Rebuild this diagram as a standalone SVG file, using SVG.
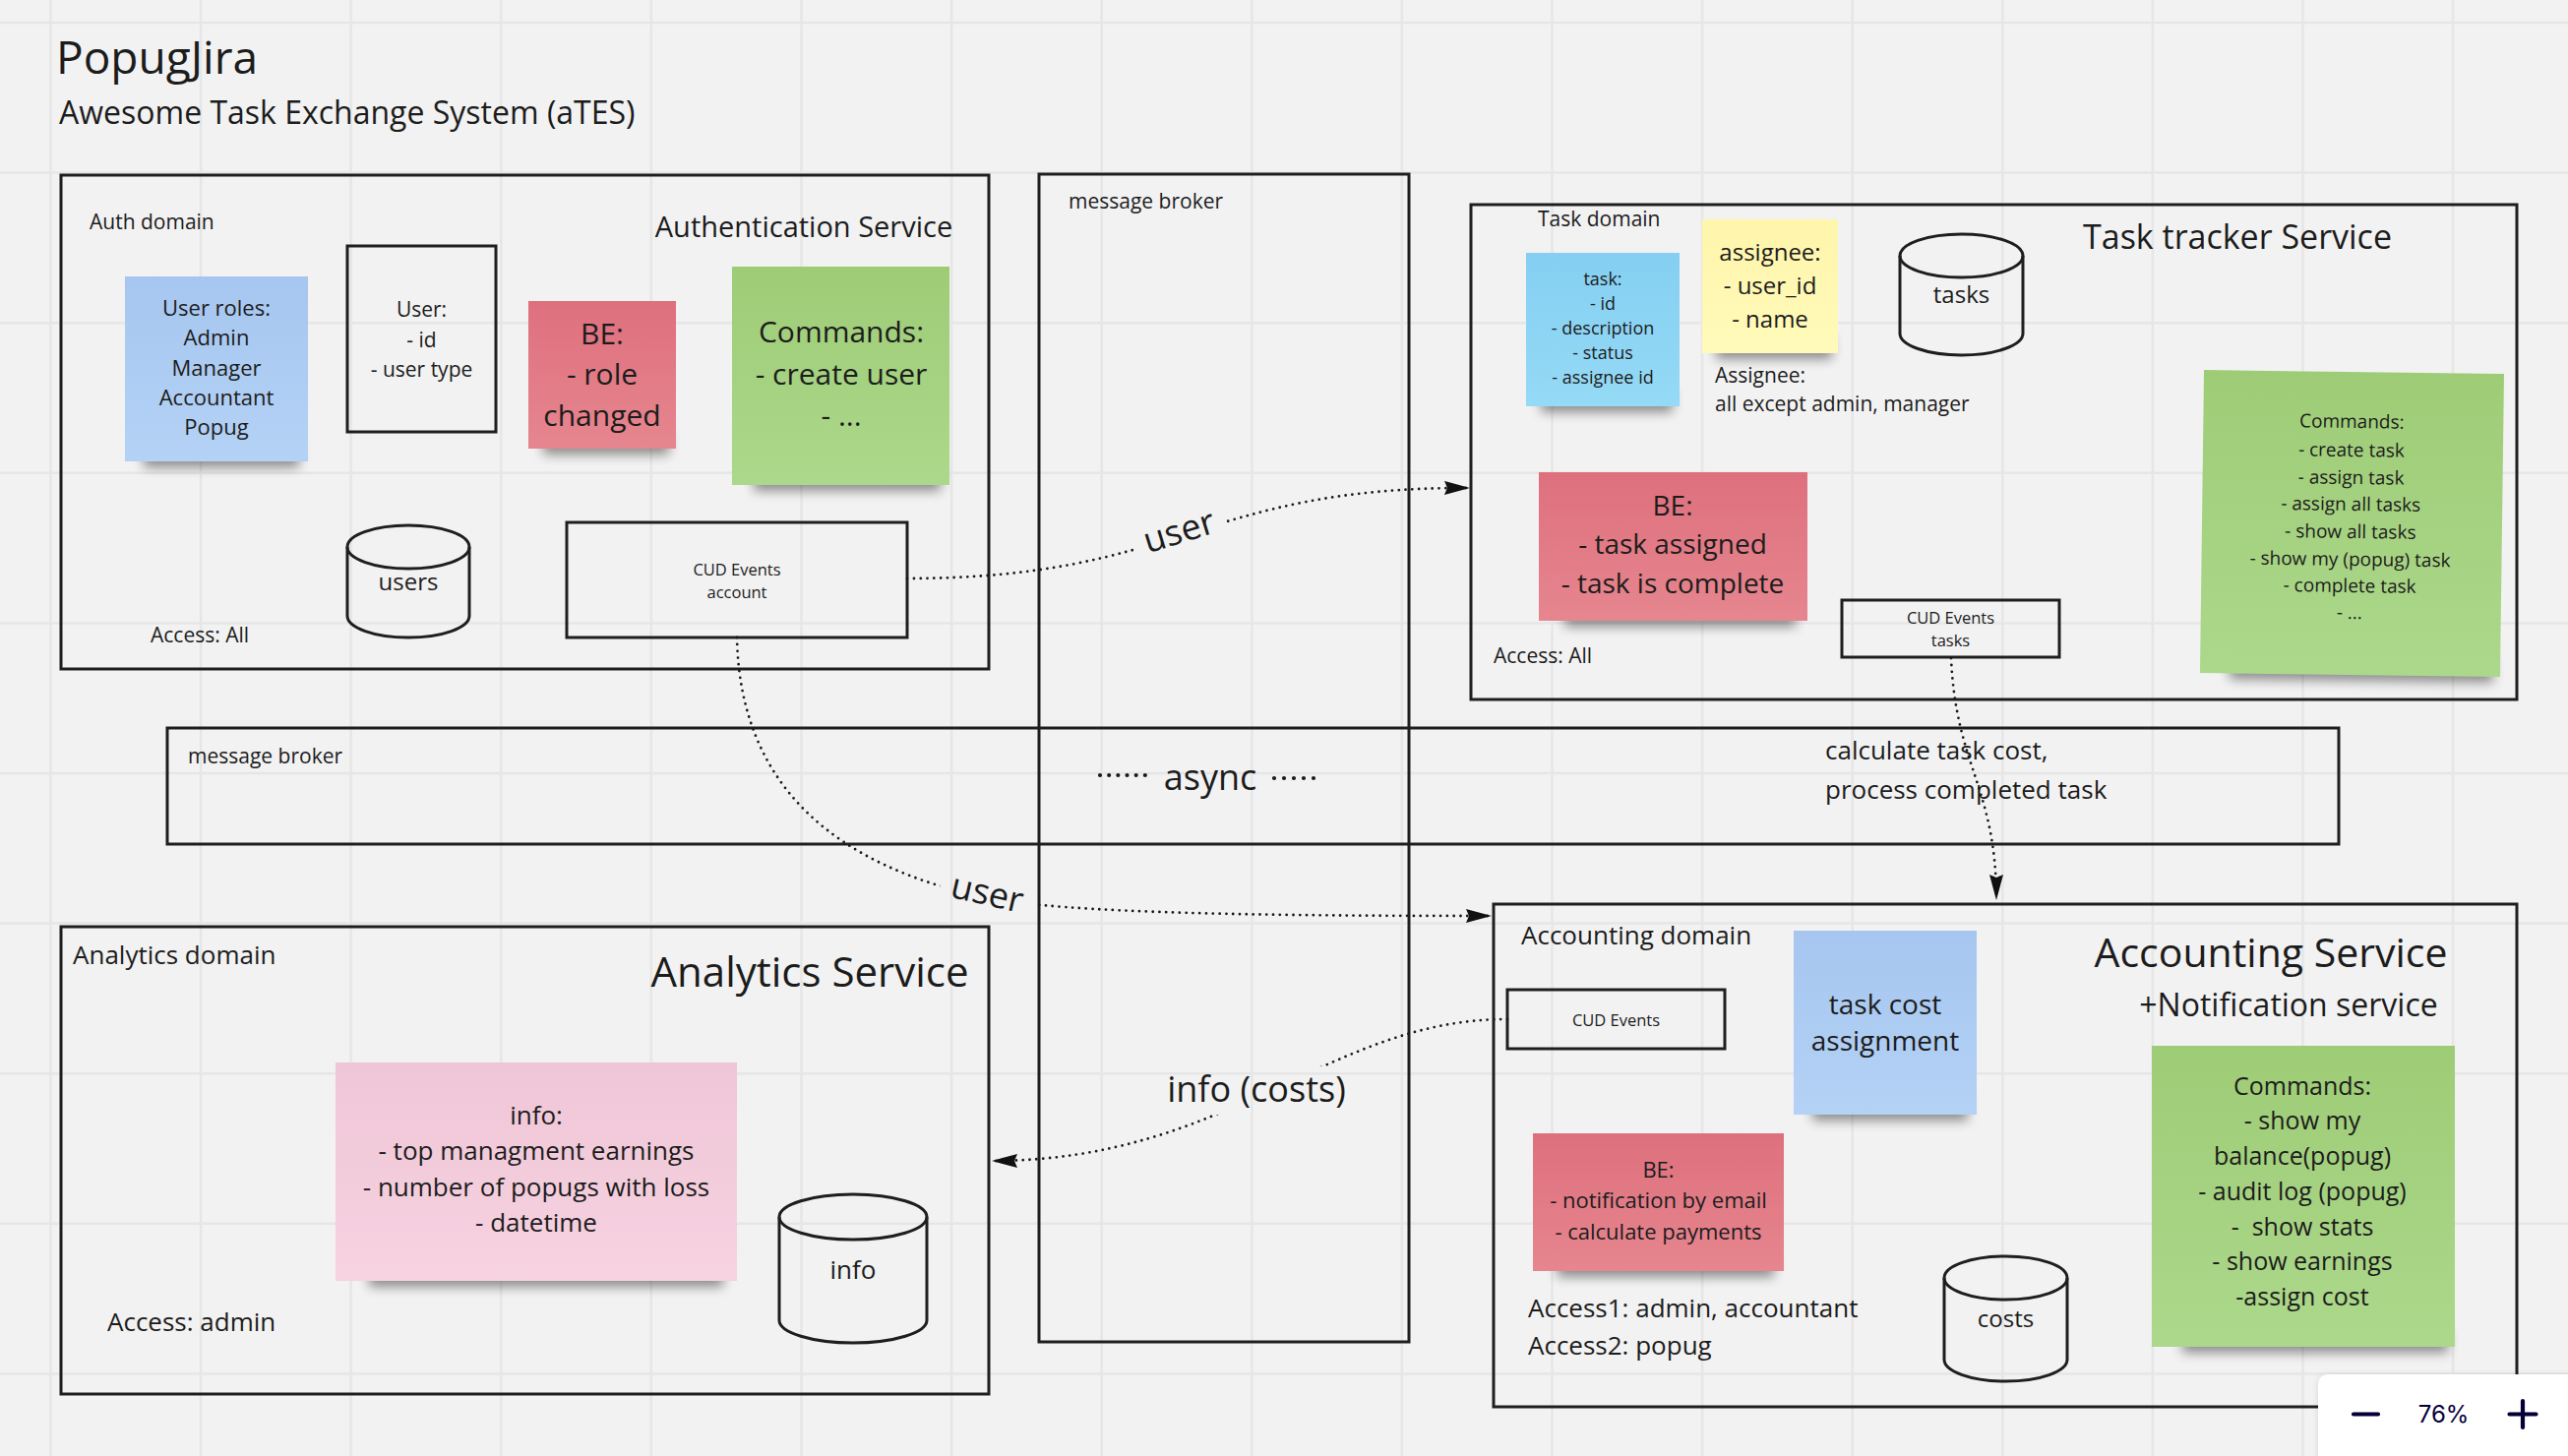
<svg xmlns="http://www.w3.org/2000/svg" width="2610" height="1480" viewBox="0 0 2610 1480">
<style>
.t{font-family:"Open Sans","Liberation Sans",sans-serif;fill:#1c1c1c}
.m{text-anchor:middle}
.box{fill:none;stroke:#1e1e1e;stroke-width:3}
.conn{fill:none;stroke:#1a1a1a;stroke-width:2.8;stroke-dasharray:0 6.8;stroke-linecap:round}
.dots{fill:none;stroke:#1a1a1a;stroke-width:4.2;stroke-linecap:round}
.sh{fill:#000;opacity:.42;filter:url(#blur)}
.grid{fill:none;stroke:#e6e6e6;stroke-width:2.5}
</style>
<defs>
<filter id="blur" x="-30%" y="-100%" width="160%" height="300%"><feGaussianBlur stdDeviation="6"/></filter>
<filter id="wsh" x="-10%" y="-30%" width="120%" height="160%"><feDropShadow dx="0" dy="1" stdDeviation="3" flood-color="#000" flood-opacity=".12"/></filter>
<linearGradient id="gBlue" x1="0" y1="0" x2="0" y2="1"><stop offset="0" stop-color="#a6c6f0"/><stop offset="1" stop-color="#b4d2f5"/></linearGradient>
<linearGradient id="gRed" x1="0" y1="0" x2="0" y2="1"><stop offset="0" stop-color="#de707d"/><stop offset="1" stop-color="#e6868f"/></linearGradient>
<linearGradient id="gGreen" x1="0" y1="0" x2="0" y2="1"><stop offset="0" stop-color="#9ecc76"/><stop offset="1" stop-color="#acd88b"/></linearGradient>
<linearGradient id="gCyan" x1="0" y1="0" x2="0" y2="1"><stop offset="0" stop-color="#84cff2"/><stop offset="1" stop-color="#95daf6"/></linearGradient>
<linearGradient id="gYellow" x1="0" y1="0" x2="0" y2="1"><stop offset="0" stop-color="#fff5ab"/><stop offset="1" stop-color="#fffaba"/></linearGradient>
<linearGradient id="gPink" x1="0" y1="0" x2="0" y2="1"><stop offset="0" stop-color="#efc6d7"/><stop offset="1" stop-color="#f7d2e1"/></linearGradient>
<marker id="arr" markerUnits="userSpaceOnUse" markerWidth="28" markerHeight="16" refX="26" refY="7" orient="auto"><path d="M0,0 L26,7 L0,14 L3,7 z" fill="#111"/></marker>
<mask id="gaps" maskUnits="userSpaceOnUse" x="0" y="0" width="2610" height="1480">
<rect width="2610" height="1480" fill="#fff"/>
<rect x="-48" y="-22" width="96" height="44" fill="#000" transform="translate(1199,542) rotate(-17.5)"/>
<rect x="-50" y="-22" width="100" height="44" fill="#000" transform="translate(1005,908) rotate(13)"/>
<rect x="1180" y="1084" width="196" height="49" fill="#000"/>
</mask>
</defs>

<rect width="2610" height="1480" fill="#f2f2f2"/>
<path class="grid" d="M51.5,0V1480M204.1,0V1480M356.7,0V1480M509.3,0V1480M661.9,0V1480M814.5,0V1480M967.1,0V1480M1119.7,0V1480M1272.3,0V1480M1424.9,0V1480M1577.5,0V1480M1730.1,0V1480M1882.7,0V1480M2035.3,0V1480M2187.9,0V1480M2340.5,0V1480M2493.1,0V1480M0,23H2610M0,175.6H2610M0,328.2H2610M0,480.8H2610M0,633.4H2610M0,786H2610M0,938.6H2610M0,1091.2H2610M0,1243.8H2610M0,1396.4H2610"/>

<g id="title">
<text class="t" x="57" y="75" font-size="46">PopugJira</text>
<text class="t" x="60" y="126" font-size="32">Awesome Task Exchange System (aTES)</text>
</g>

<g id="broker-vertical">
<rect class="box" x="1056" y="177" width="376" height="1187"/>
<text class="t" x="1086" y="212" font-size="21">message broker</text>
</g>
<g id="broker-horizontal">
<rect class="box" x="170" y="740" width="2207" height="118"/>
<text class="t" x="191" y="776" font-size="21">message broker</text>
<path class="dots" d="M1118,788H1173" stroke-dasharray="0 9.17"/>
<text class="t" x="1230" y="803" font-size="36" text-anchor="middle">async</text>
<path class="dots" d="M1295,791H1345" stroke-dasharray="0 10"/>
<text class="t" x="1855" y="772" font-size="26">calculate task cost,</text>
<text class="t" x="1855" y="812" font-size="26">process completed task</text>
</g>

<g id="auth-domain">
<rect class="box" x="62" y="178" width="943" height="502"/>
<text class="t" x="91" y="233" font-size="21">Auth domain</text>
<text class="t m" x="817" y="241" font-size="29">Authentication Service</text>
<text class="t" x="153" y="653" font-size="21">Access: All</text>
</g>
<g id="user-roles">
<rect class="sh" x="146" y="451" width="158" height="24"/>
<rect x="127" y="281" width="186" height="188" fill="url(#gBlue)"/>
<text class="t m" font-size="22"><tspan x="220" y="321">User roles:</tspan><tspan x="220" y="351">Admin</tspan><tspan x="220" y="382">Manager</tspan><tspan x="220" y="412">Accountant</tspan><tspan x="220" y="442">Popug</tspan></text>
</g>
<g id="user-entity">
<rect class="box" x="353" y="250" width="151" height="189"/>
<text class="t m" font-size="21"><tspan x="428.5" y="322">User:</tspan><tspan x="428.5" y="353">- id</tspan><tspan x="428.5" y="383">- user type</tspan></text>
</g>
<g id="auth-be">
<rect class="sh" x="552" y="438" width="128" height="24"/>
<rect x="537" y="306" width="150" height="150" fill="url(#gRed)"/>
<text class="t m" font-size="30"><tspan x="612" y="350">BE:</tspan><tspan x="612" y="391">- role</tspan><tspan x="612" y="433">changed</tspan></text>
</g>
<g id="auth-commands">
<rect class="sh" x="766" y="475" width="190" height="24"/>
<rect x="744" y="271" width="221" height="222" fill="url(#gGreen)"/>
<text class="t m" font-size="30"><tspan x="855" y="348">Commands:</tspan><tspan x="855" y="391">- create user</tspan><tspan x="855" y="433">- ...</tspan></text>
</g>
<g id="users-db">
<ellipse class="box" cx="415" cy="556" rx="62" ry="22"/>
<path class="box" d="M353,556V626A62,22 0 0 0 477,626V556"/>
<text class="t m" x="415" y="600" font-size="24">users</text>
</g>
<g id="cud-account">
<rect class="box" x="576" y="531" width="346" height="117"/>
<text class="t m" font-size="16.5"><tspan x="749" y="585">CUD Events</tspan><tspan x="749" y="608">account</tspan></text>
</g>

<g id="task-domain">
<rect class="box" x="1495" y="208" width="1063" height="503"/>
<text class="t" x="1563" y="230" font-size="21">Task domain</text>
<text class="t m" x="2274" y="253" font-size="34">Task tracker Service</text>
<text class="t" x="1518" y="674" font-size="21">Access: All</text>
<text class="t" x="1743" y="389" font-size="21">Assignee:</text>
<text class="t" x="1743" y="418" font-size="21">all except admin, manager</text>
</g>
<g id="task-entity">
<rect class="sh" x="1566" y="395" width="134" height="24"/>
<rect x="1551" y="257" width="156" height="156" fill="url(#gCyan)"/>
<text class="t m" font-size="18"><tspan x="1629" y="290">task:</tspan><tspan x="1629" y="315">- id</tspan><tspan x="1629" y="340">- description</tspan><tspan x="1629" y="365">- status</tspan><tspan x="1629" y="390">- assignee id</tspan></text>
</g>
<g id="assignee">
<rect class="sh" x="1744" y="341" width="118" height="24"/>
<rect x="1730" y="223" width="138" height="136" fill="url(#gYellow)"/>
<text class="t m" font-size="24"><tspan x="1799" y="265">assignee:</tspan><tspan x="1799" y="299">- user_id</tspan><tspan x="1799" y="333">- name</tspan></text>
</g>
<g id="tasks-db">
<ellipse class="box" cx="1993.5" cy="260" rx="62.5" ry="22"/>
<path class="box" d="M1931,260V339A62.5,22 0 0 0 2056,339V260"/>
<text class="t m" x="1993.5" y="308" font-size="24">tasks</text>
</g>
<g id="task-commands" transform="rotate(0.75 2390 532)">
<rect class="sh" x="2268" y="668" width="268" height="24"/>
<rect x="2238" y="378" width="305" height="308" fill="url(#gGreen)"/>
<text class="t m" font-size="19"><tspan x="2389" y="435">Commands:</tspan><tspan x="2389" y="464">- create task</tspan><tspan x="2389" y="492">- assign task</tspan><tspan x="2389" y="519">- assign all tasks</tspan><tspan x="2389" y="547">- show all tasks</tspan><tspan x="2389" y="575">- show my (popug) task</tspan><tspan x="2389" y="602">- complete task</tspan><tspan x="2389" y="629">- ...</tspan></text>
</g>
<g id="task-be">
<rect class="sh" x="1590" y="613" width="235" height="24"/>
<rect x="1564" y="480" width="273" height="151" fill="url(#gRed)"/>
<text class="t m" font-size="28"><tspan x="1700" y="524">BE:</tspan><tspan x="1700" y="563">- task assigned</tspan><tspan x="1700" y="603">- task is complete</tspan></text>
</g>
<g id="cud-tasks">
<rect class="box" x="1872" y="610" width="221" height="58"/>
<text class="t m" font-size="16.5"><tspan x="1982.5" y="634">CUD Events</tspan><tspan x="1982.5" y="657">tasks</tspan></text>
</g>

<g id="accounting-domain">
<rect class="box" x="1518" y="919" width="1040" height="511"/>
<text class="t" x="1546" y="960" font-size="26">Accounting domain</text>
<text class="t m" x="2308" y="983" font-size="41">Accounting Service</text>
<text class="t m" x="2326" y="1033" font-size="32">+Notification service</text>
<text class="t" x="1553" y="1339" font-size="26">Access1: admin, accountant</text>
<text class="t" x="1553" y="1377" font-size="26">Access2: popug</text>
</g>
<g id="cud-accounting">
<rect class="box" x="1532" y="1006" width="221" height="60"/>
<text class="t m" x="1642.5" y="1043" font-size="16.5">CUD Events</text>
</g>
<g id="task-cost">
<rect class="sh" x="1842" y="1115" width="158" height="24"/>
<rect x="1823" y="946" width="186" height="187" fill="url(#gBlue)"/>
<text class="t m" font-size="28"><tspan x="1916" y="1031">task cost</tspan><tspan x="1916" y="1068">assignment</tspan></text>
</g>
<g id="accounting-be">
<rect class="sh" x="1583" y="1274" width="220" height="24"/>
<rect x="1558" y="1152" width="255" height="140" fill="url(#gRed)"/>
<text class="t m" font-size="22"><tspan x="1685.5" y="1197">BE:</tspan><tspan x="1685.5" y="1228">- notification by email</tspan><tspan x="1685.5" y="1260">- calculate payments</tspan></text>
</g>
<g id="costs-db">
<ellipse class="box" cx="2038.5" cy="1299" rx="62.5" ry="22"/>
<path class="box" d="M1976,1299V1382A62.5,22 0 0 0 2101,1382V1299"/>
<text class="t m" x="2038.5" y="1349" font-size="24">costs</text>
</g>
<g id="accounting-commands">
<rect class="sh" x="2218" y="1351" width="270" height="24"/>
<rect x="2187" y="1063" width="308" height="306" fill="url(#gGreen)"/>
<text class="t m" font-size="25" style="white-space:pre"><tspan x="2340" y="1113">Commands:</tspan><tspan x="2340" y="1148">- show my</tspan><tspan x="2340" y="1184">balance(popug)</tspan><tspan x="2340" y="1220">- audit log (popug)</tspan><tspan x="2340" y="1256">-  show stats</tspan><tspan x="2340" y="1291">- show earnings</tspan><tspan x="2340" y="1327">-assign cost</tspan></text>
</g>

<g id="analytics-domain">
<rect class="box" x="62" y="942" width="943" height="475"/>
<text class="t" x="74" y="980" font-size="26">Analytics domain</text>
<text class="t m" x="823" y="1003" font-size="42">Analytics Service</text>
<text class="t" x="109" y="1353" font-size="26">Access: admin</text>
</g>
<g id="analytics-info">
<rect class="sh" x="375" y="1284" width="360" height="24"/>
<rect x="341" y="1080" width="408" height="222" fill="url(#gPink)"/>
<text class="t m" font-size="26"><tspan x="545" y="1143">info:</tspan><tspan x="545" y="1179">- top managment earnings</tspan><tspan x="545" y="1216">- number of popugs with loss</tspan><tspan x="545" y="1252">- datetime</tspan></text>
</g>
<g id="info-db">
<ellipse class="box" cx="867" cy="1237" rx="75" ry="23"/>
<path class="box" d="M792,1237V1342A75,23 0 0 0 942,1342V1237"/>
<text class="t m" x="867" y="1300" font-size="26">info</text>
</g>

<g id="connectors">
<g mask="url(#gaps)">
<path class="conn" marker-end="url(#arr)" d="M922,588C1200,588 1220,495 1494,496"/>
<path class="conn" marker-end="url(#arr)" d="M749,648C752,800 850,880 1000,912C1080,929 1300,931 1516,931"/>
<path class="conn" marker-end="url(#arr)" d="M1532,1036C1350,1036 1250,1180 1008,1180"/>
<path class="conn" marker-end="url(#arr)" d="M1983,669C1988,780 2029,800 2029,915"/>
</g>
<text class="t m" font-size="36" transform="translate(1199,542) rotate(-17)" y="10">user</text>
<text class="t m" font-size="36" transform="translate(1003,910) rotate(13)" y="10">user</text>
<text class="t m" x="1277" y="1120" font-size="36">info (costs)</text>
</g>

<g id="zoom-widget">
<rect x="2356" y="1397" width="280" height="110" rx="10" fill="#fff" filter="url(#wsh)"/>
<path d="M2392,1437.5H2417M2564,1424V1451M2550.5,1437.5H2577.5" stroke="#050038" stroke-width="4.2" stroke-linecap="round" fill="none"/>
<text x="2483.5" y="1446" font-size="24" text-anchor="middle" font-family="Inter,'Liberation Sans',sans-serif" fill="#050038">76%</text>
</g>
</svg>
